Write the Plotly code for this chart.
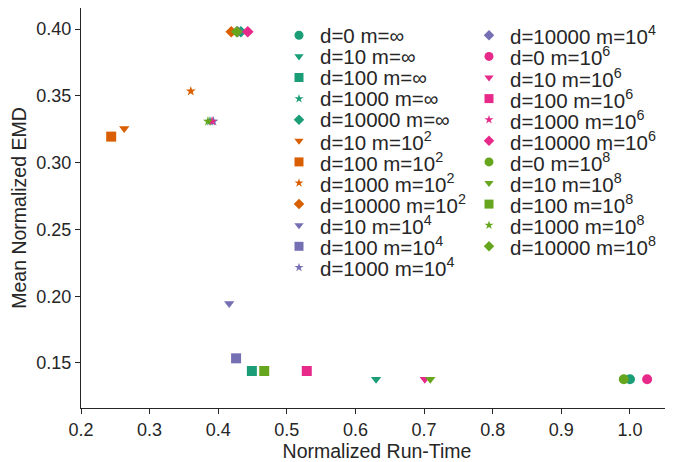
"""Mean normalized EMD vs normalized run-time, one marker per (d, m) setting."""

import plotly.graph_objects as go

# one list per m setting; d values share a marker shape
M_LABELS = ["∞", "10<sup>2</sup>", "10<sup>4</sup>", "10<sup>6</sup>", "10<sup>8</sup>"]
M_COLORS = ["#1b9e77", "#d95f02", "#7570b3", "#e7298a", "#66a61e"]
D_SYMBOLS = {0: "circle", 10: "triangle-down", 100: "square", 1000: "star", 10000: "diamond"}
SYMBOL_SIZE = {"circle": 10, "triangle-down": 9, "square": 10, "star": 7.5, "diamond": 9}

d_inf = [0, 10, 100, 1000, 10000]
runtime_inf = [1.000, 0.630, 0.449, 0.388, 0.433]
emd_inf = [0.1378, 0.1378, 0.1440, 0.3310, 0.3980]

d_1e2 = [10, 100, 1000, 10000]
runtime_1e2 = [0.263, 0.244, 0.360, 0.419]
emd_1e2 = [0.3255, 0.3195, 0.3535, 0.3980]

d_1e4 = [10, 100, 1000, 10000]
runtime_1e4 = [0.416, 0.426, 0.393, 0.428]
emd_1e4 = [0.1945, 0.1535, 0.3310, 0.3980]

d_1e6 = [0, 10, 100, 1000, 10000]
runtime_1e6 = [1.025, 0.701, 0.529, 0.391, 0.443]
emd_1e6 = [0.1378, 0.1378, 0.1440, 0.3310, 0.3980]

d_1e8 = [0, 10, 100, 1000, 10000]
runtime_1e8 = [0.991, 0.709, 0.467, 0.385, 0.427]
emd_1e8 = [0.1378, 0.1378, 0.1440, 0.3310, 0.3980]

x_ticks = [0.2, 0.3, 0.4, 0.5, 0.6, 0.7, 0.8, 0.9, 1.0]
y_ticks = [0.15, 0.20, 0.25, 0.30, 0.35, 0.40]

groups = [
    (d_inf, runtime_inf, emd_inf),
    (d_1e2, runtime_1e2, emd_1e2),
    (d_1e4, runtime_1e4, emd_1e4),
    (d_1e6, runtime_1e6, emd_1e6),
    (d_1e8, runtime_1e8, emd_1e8),
]

FONT = "Liberation Sans, Arial, sans-serif"
INK = "#262626"

# the page body adds an 8px margin, so the figure is 8px smaller each way
FIG_W, FIG_H = 665, 454

# legend geometry, in pixels of the plot area (overlay axes below)
LEG_PER_COL = 12
LEG_COL_X = [299, 489]
LEG_TOP = 35.3
LEG_STEP = 21.1
LEG_TEXT_GAP = 19

fig = go.Figure()
entries = []
for (ds, xs, ys), m_label, color in zip(groups, M_LABELS, M_COLORS):
    for d, x, y in zip(ds, xs, ys):
        sym = D_SYMBOLS[d]
        name = f"d={d} m={m_label}"
        fig.add_trace(
            go.Scatter(
                x=[x], y=[y],
                mode="markers",
                name=name,
                marker={"color": color, "symbol": sym, "size": SYMBOL_SIZE[sym], "line": {"width": 0}},
                showlegend=False,
            )
        )
        entries.append((name, sym, color))

# two-column legend drawn on a hidden pixel-scaled overlay
for i, (name, sym, color) in enumerate(entries):
    col, row = divmod(i, LEG_PER_COL)
    lx = LEG_COL_X[col]
    ly = LEG_TOP + row * LEG_STEP
    fig.add_trace(
        go.Scatter(
            x=[lx], y=[ly],
            xaxis="x2", yaxis="y2",
            mode="markers",
            marker={"color": color, "symbol": sym, "size": SYMBOL_SIZE[sym] * 0.9, "line": {"width": 0}},
            showlegend=False,
            hoverinfo="skip",
        )
    )
    fig.add_annotation(
        x=lx + LEG_TEXT_GAP, y=ly,
        xref="x2", yref="y2",
        text=name,
        showarrow=False,
        xanchor="left",
        yanchor="middle",
        font={"family": FONT, "size": 20.5, "color": INK},
    )

axis_style = {
    "ticks": "outside",
    "ticklen": 5,
    "tickwidth": 1.25,
    "tickcolor": INK,
    "showline": True,
    "linecolor": INK,
    "linewidth": 1.25,
    "showgrid": False,
    "zeroline": False,
    "automargin": False,
    "tickfont": {"size": 18},
}

fig.update_layout(
    width=FIG_W,
    height=FIG_H,
    margin={"l": 73, "r": 0, "t": 0, "b": 54},
    plot_bgcolor="white",
    paper_bgcolor="white",
    font={"family": FONT, "color": INK},
    showlegend=False,
    xaxis={
        **axis_style,
        "range": [0.2, 1.0627],
        "tickvals": x_ticks,
        "tickformat": ".1f",
        "title": {"text": "Normalized Run-Time", "font": {"size": 19.5}, "standoff": 4},
    },
    yaxis={
        **axis_style,
        "range": [0.1163, 0.4158],
        "tickvals": y_ticks,
        "tickformat": ".2f",
        "title": {"text": "Mean Normalized EMD", "font": {"size": 19.5}, "standoff": 6},
    },
    xaxis2={"overlaying": "x", "range": [81, 673], "visible": False, "fixedrange": True},
    yaxis2={"overlaying": "y", "range": [408, 8], "visible": False, "fixedrange": True},
)

fig.write_html("out.html")
